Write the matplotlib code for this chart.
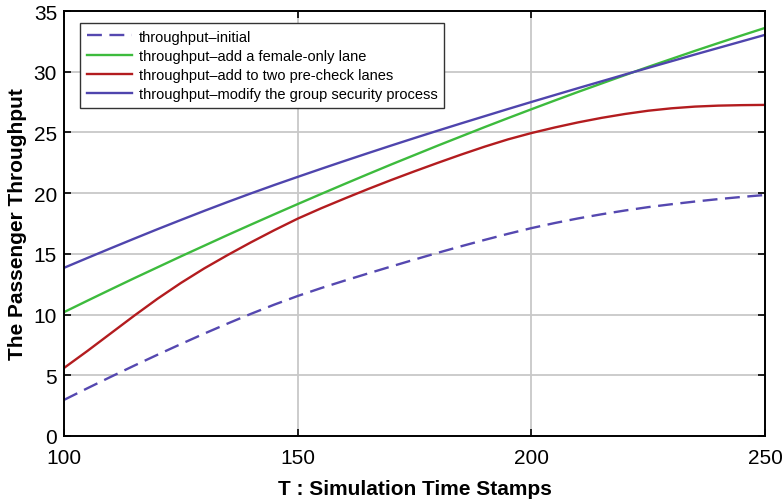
import numpy as np
import matplotlib.pyplot as plt

plt.rcParams['font.family'] = ['Liberation Sans', 'DejaVu Sans']

# simulation time stamps
t = list(range(100, 251, 5))

# passenger throughput per scenario
initial = [2.97, 3.93, 4.87, 5.79, 6.69, 7.57, 8.43, 9.26, 10.06, 10.82, 11.53,
           12.18, 12.79, 13.38, 13.96, 14.53, 15.09, 15.63, 16.15, 16.65, 17.12,
           17.54, 17.92, 18.26, 18.57, 18.85, 19.09, 19.31, 19.51, 19.69, 19.85]
female_lane = [10.2, 11.14, 12.07, 12.99, 13.89, 14.79, 15.67, 16.55, 17.41, 18.26, 19.1,
               19.93, 20.75, 21.56, 22.36, 23.14, 23.92, 24.68, 25.44, 26.18, 26.91,
               27.63, 28.34, 29.03, 29.72, 30.4, 31.06, 31.72, 32.36, 32.99, 33.61]
precheck = [5.6, 7.0, 8.45, 9.9, 11.3, 12.6, 13.8, 14.9, 15.95, 16.95, 17.9,
            18.75, 19.55, 20.33, 21.08, 21.8, 22.5, 23.18, 23.83, 24.43, 24.95,
            25.41, 25.83, 26.2, 26.52, 26.79, 26.99, 27.13, 27.21, 27.25, 27.27]
group_process = [13.85, 14.66, 15.46, 16.25, 17.03, 17.79, 18.54, 19.27, 19.98, 20.67, 21.34,
                 22.0, 22.65, 23.29, 23.92, 24.54, 25.15, 25.75, 26.34, 26.93, 27.51,
                 28.08, 28.65, 29.21, 29.77, 30.32, 30.87, 31.42, 31.96, 32.5, 33.04]

labels = ['throughput\u2013initial',
          'throughput\u2013add a female-only lane',
          'throughput\u2013add to two pre-check lanes',
          'throughput\u2013modify the group security process']

fig = plt.figure(figsize=(7.84, 5.02), dpi=100)
ax = fig.add_axes([0.0816, 0.1295, 0.8942, 0.8465])

lw = 1.7
ax.plot(t, initial, color='#5548b0', lw=lw, dashes=(6.3, 3.2), label=labels[0])
ax.plot(t, female_lane, color='#3dbb3d', lw=lw, label=labels[1])
ax.plot(t, precheck, color='#b31c1f', lw=lw, label=labels[2])
ax.plot(t, group_process, color='#4f45ad', lw=lw, label=labels[3])

ax.set_xlim(100, 250)
ax.set_ylim(0, 35)
ax.set_xticks([100, 150, 200, 250])
ax.set_yticks(np.arange(0, 36, 5))
ax.grid(True, color='#c8c8c8', lw=1.3)
ax.set_axisbelow(True)
ax.tick_params(direction='in', length=5, width=1.2, top=True, right=True,
               labelsize=15)
ax.tick_params(axis='x', pad=9)
ax.tick_params(axis='y', pad=5)
for s in ax.spines.values():
    s.set_linewidth(1.4)

ax.set_xlabel('T : Simulation Time Stamps', fontsize=15, fontweight='bold', labelpad=8)
ax.set_ylabel('The Passenger Throughput', fontsize=15, fontweight='bold', labelpad=5)

leg = ax.legend(loc='upper left', bbox_to_anchor=(0.0228, 0.972), borderaxespad=0,
                fontsize=10.5, handlelength=3.1, handletextpad=0.5, labelspacing=0.36,
                borderpad=0.45, fancybox=False, framealpha=1)
leg.get_frame().set_edgecolor('#333333')
leg.get_frame().set_linewidth(1.0)

fig.savefig('out.png', dpi=100)
